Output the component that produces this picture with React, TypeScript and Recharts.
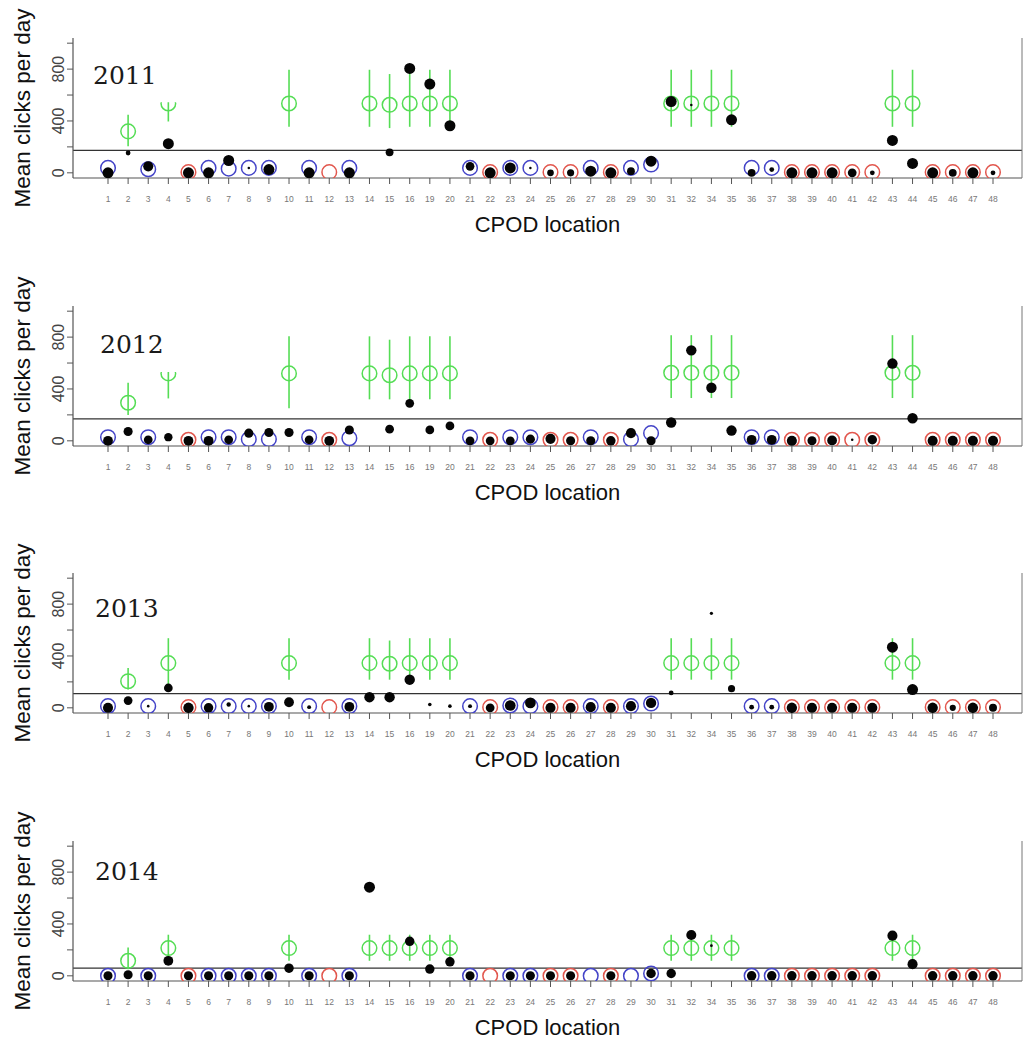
import React from "react";
import {
  ComposedChart,
  Scatter,
  ErrorBar,
  XAxis,
  YAxis,
  ZAxis,
  ReferenceLine,
  ReferenceArea,
} from "recharts";

// CPOD locations (17, 18 and 33 are missing in the source figure)
const LOCATIONS = [
  "1", "2", "3", "4", "5", "6", "7", "8", "9", "10", "11", "12", "13", "14", "15", "16",
  "19", "20", "21", "22", "23", "24", "25", "26", "27", "28", "29", "30", "31", "32",
  "34", "35", "36", "37", "38", "39", "40", "41", "42", "43", "44", "45", "46", "47", "48",
];

// b = blue ring, r = red ring, g = green ring with interval
const HABITAT = [
  "b", "g", "b", "g", "r", "b", "b", "b", "b", "g", "b", "r", "b", "g", "g", "g",
  "g", "g", "b", "r", "b", "b", "r", "r", "b", "r", "b", "b", "g", "g",
  "g", "g", "b", "b", "r", "r", "r", "r", "r", "g", "g", "r", "r", "r", "r",
];

const YEARS = ["2011", "2012", "2013", "2014"];
const THRESHOLDS = [173, 169, 110, 60];
const Y_TICKS = [0, 200, 400, 600, 800, 1000];

// predicted (ring) values
const PRED_2011 = [38, 320, 28, 535, 5, 38, 32, 38, 38, 535, 38, 5, 38, 535, 525, 535, 535, 535, 38, 5, 38, 38, 5, 5, 38, 5, 38, 64, 535, 535, 535, 535, 38, 38, 5, 5, 5, 5, 5, 535, 535, 5, 5, 5, 5];
const PRED_2012 = [28, 294, 28, 520, 8, 28, 28, 13, 13, 520, 28, 8, 20, 520, 506, 520, 520, 520, 28, 8, 28, 28, 8, 8, 28, 8, 13, 59, 525, 525, 525, 525, 28, 28, 8, 8, 8, 8, 8, 525, 525, 8, 8, 8, 8];
const PRED_2013 = [13, 205, 13, 345, 5, 13, 13, 13, 13, 345, 13, 5, 13, 345, 340, 345, 345, 345, 13, 5, 18, 13, 5, 5, 13, 5, 13, 33, 345, 345, 345, 345, 13, 13, 5, 5, 5, 5, 5, 345, 345, 5, 5, 5, 5];
const PRED_2014 = [0, 116, 0, 214, 0, 0, 0, 0, 0, 214, 0, 0, 0, 214, 214, 214, 214, 214, 0, 0, 0, 0, 0, 0, 0, 0, 0, 18, 214, 214, 214, 214, 0, 0, 0, 0, 0, 0, 0, 214, 214, 0, 0, 0, 0];

// observed mean clicks per day (black dots)
const OBS_2011 = [0, 153, 50, 225, 0, 0, 95, 38, 25, null, 0, null, 0, null, 158, 805, 685, 363, 50, 0, 38, 38, 0, 0, 13, 0, 13, 90, 550, 524, null, 409, 0, 25, 0, 0, 0, 0, 0, 250, 72, 0, 0, 0, 0];
const OBS_2012 = [0, 72, 8, 28, 0, 0, 8, 59, 64, 64, 8, 0, 84, null, 90, 289, 84, 115, 0, 0, 0, 13, 15, 0, 0, 0, 59, 0, 141, 698, 409, 79, 8, 8, 0, 0, 3, 8, 8, 596, 174, 0, 0, 0, 0];
const OBS_2013 = [0, 56, 13, 153, 0, 0, 26, 13, 8, 43, 5, null, 8, 82, 82, 217, 26, 13, 13, 0, 18, 38, 0, 0, 5, 0, 13, 38, 115, null, 729, 148, 5, 5, 0, 0, 0, 0, 0, 468, 141, 0, 0, 0, 0];
const OBS_2014 = [0, 8, 0, 116, 0, 0, 0, 0, 0, 59, 0, null, 0, 684, null, 266, 52, 108, 0, null, 0, 0, 0, 0, null, 0, null, 18, 18, 315, 232, null, 0, 0, 0, 0, 0, 0, 0, 310, 90, 0, 0, 0, 0];

// relative dot weight (mapped to symbol area by ZAxis)
const DOT_2011 = [95, 18, 80, 95, 95, 95, 95, 5, 95, 0, 95, 0, 95, 0, 48, 95, 95, 95, 60, 95, 95, 5, 35, 40, 95, 95, 48, 95, 95, 5, 0, 95, 48, 18, 95, 95, 95, 60, 18, 95, 95, 95, 48, 95, 18];
const DOT_2012 = [75, 65, 60, 55, 75, 75, 60, 65, 65, 65, 60, 75, 65, 0, 60, 60, 60, 60, 60, 60, 60, 65, 80, 65, 65, 70, 80, 65, 85, 85, 85, 85, 75, 75, 80, 65, 75, 5, 70, 85, 85, 80, 80, 80, 80];
const DOT_2013 = [80, 60, 5, 60, 85, 70, 15, 5, 75, 75, 12, 0, 75, 85, 85, 85, 10, 10, 12, 60, 90, 90, 80, 80, 80, 80, 80, 85, 18, 0, 8, 40, 18, 18, 85, 80, 80, 80, 80, 95, 95, 85, 30, 85, 50];
const DOT_2014 = [65, 65, 65, 75, 65, 65, 65, 65, 65, 70, 65, 0, 65, 95, 0, 70, 70, 70, 65, 0, 65, 65, 65, 65, 0, 65, 0, 70, 70, 80, 6, 0, 70, 70, 70, 70, 70, 70, 70, 80, 80, 70, 70, 70, 70];

// interval limits for the green locations
const LOW_2011: Record<string, number> = { "2": 205, "4": 396, "10": 355, "14": 355, "15": 345, "16": 355, "19": 355, "20": 355, "31": 355, "32": 355, "34": 355, "35": 355, "43": 355, "44": 355 };
const HIGH_2011: Record<string, number> = { "2": 448, "4": 795, "10": 795, "14": 795, "15": 762, "16": 795, "19": 795, "20": 795, "31": 795, "32": 795, "34": 795, "35": 795, "43": 795, "44": 795 };
const LOW_2012: Record<string, number> = { "2": 200, "4": 327, "10": 251, "14": 320, "15": 320, "16": 320, "19": 320, "20": 320, "31": 330, "32": 330, "34": 330, "35": 330, "43": 330, "44": 330 };
const HIGH_2012: Record<string, number> = { "2": 448, "4": 806, "10": 806, "14": 806, "15": 780, "16": 806, "19": 806, "20": 806, "31": 815, "32": 815, "34": 815, "35": 815, "43": 815, "44": 815 };
const LOW_2013: Record<string, number> = { "2": 141, "4": 160, "10": 217, "14": 217, "15": 217, "16": 217, "19": 217, "20": 217, "31": 217, "32": 217, "34": 217, "35": 217, "43": 217, "44": 217 };
const HIGH_2013: Record<string, number> = { "2": 307, "4": 537, "10": 537, "14": 537, "15": 519, "16": 537, "19": 537, "20": 537, "31": 537, "32": 537, "34": 537, "35": 537, "43": 537, "44": 537 };
const LOW_2014: Record<string, number> = { "2": 50, "4": 116, "10": 116, "14": 116, "15": 116, "16": 116, "19": 116, "20": 116, "31": 116, "32": 116, "34": 116, "35": 116, "43": 116, "44": 116 };
const HIGH_2014: Record<string, number> = { "2": 219, "4": 317, "10": 317, "14": 317, "15": 317, "16": 317, "19": 317, "20": 317, "31": 317, "32": 317, "34": 317, "35": 317, "43": 317, "44": 317 };

// the year label's white box hides the top of location 4 in the first two panels
const MASK_FROM = [545, 530, null, null];

const RING = { b: "#4444c8", r: "#e2574e", g: "#55dd55" } as Record<string, string>;
const FONT = "'Liberation Sans', Arial, sans-serif";
const W = 1023;
const H = 240;
const TOP = 38;
const AXIS_H = 62;
const PLOT_H = H - TOP - AXIS_H;
const X_PAD = { left: 35, right: 29 };
const PANEL_TOPS = [0, 268, 535, 803];
const YEAR_POS = [
  { x: 93, y: 63 },
  { x: 100, y: 64 },
  { x: 95, y: 61 },
  { x: 95, y: 56 },
];

function buildRows(pred: number[], obs: (number | null)[], dot: number[], low: Record<string, number>, high: Record<string, number>) {
  return LOCATIONS.map((loc, i) => ({
    loc,
    cls: HABITAT[i],
    pred: pred[i],
    obs: obs[i],
    w: dot[i],
    err: low[loc] != null ? [pred[i] - low[loc], high[loc] - pred[i]] : null,
  }));
}

const PANELS = [
  buildRows(PRED_2011, OBS_2011, DOT_2011, LOW_2011, HIGH_2011),
  buildRows(PRED_2012, OBS_2012, DOT_2012, LOW_2012, HIGH_2012),
  buildRows(PRED_2013, OBS_2013, DOT_2013, LOW_2013, HIGH_2013),
  buildRows(PRED_2014, OBS_2014, DOT_2014, LOW_2014, HIGH_2014),
];

const RingShape = (props: any) => {
  const { cx, cy, payload } = props;
  if (cx == null || cy == null || payload == null) return <g />;
  return <circle cx={cx} cy={cy} r={7.3} fill="none" stroke={RING[payload.cls]} strokeWidth={1.5} />;
};

const DotShape = (props: any) => {
  const { cx, cy, size, width, payload } = props;
  if (cx == null || cy == null || payload == null || payload.obs == null) return <g />;
  const r = size != null ? Math.sqrt(size / Math.PI) : (width || 8) / 2;
  return <circle cx={cx} cy={cy} r={r} fill="#050505" />;
};

const YTick = (props: any) => {
  const { x, y, payload } = props;
  if (payload.value % 400 !== 0) return <g />;
  return (
    <text
      x={x}
      y={y}
      transform={`rotate(-90 ${x} ${y})`}
      textAnchor="middle"
      fontSize={16}
      fontFamily={FONT}
      fill="#444"
    >
      {payload.value}
    </text>
  );
};

const YTitle = () => {
  const cx = 22;
  const cy = TOP + PLOT_H / 2;
  return (
    <text
      x={cx}
      y={cy}
      transform={`rotate(-90 ${cx} ${cy})`}
      textAnchor="middle"
      dominantBaseline="central"
      fontSize={22.5}
      fontFamily={FONT}
      fill="#111"
    >
      Mean clicks per day
    </text>
  );
};

function Panel({ idx }: { idx: number }) {
  const rows = PANELS[idx];
  const mask = MASK_FROM[idx];
  return (
    <div style={{ position: "absolute", left: 0, top: PANEL_TOPS[idx], width: W, height: H }}>
      <ComposedChart width={W} height={H} data={rows} margin={{ top: TOP, right: 0, bottom: 0, left: 0 }}>
        <XAxis
          dataKey="loc"
          type="category"
          interval={0}
          height={AXIS_H}
          padding={X_PAD}
          axisLine={{ stroke: "#555", strokeWidth: 1.2 }}
          tickLine={{ stroke: "#555" }}
          tickSize={6}
          tickMargin={12}
          tick={{ fontSize: 8.5, fill: "#777", fontFamily: FONT }}
          label={{ value: "CPOD location", position: "insideBottom", offset: 8, fontSize: 22, fill: "#111", fontFamily: FONT }}
        />
        <XAxis
          xAxisId="top"
          dataKey="loc"
          orientation="top"
          height={0}
          padding={X_PAD}
          tick={false}
          tickLine={false}
          axisLine={{ stroke: "#555", strokeWidth: 1.2 }}
        />
        <YAxis
          type="number"
          domain={[-40, 1040]}
          allowDataOverflow
          ticks={Y_TICKS}
          interval={0}
          width={73}
          tickSize={6}
          tickMargin={3}
          axisLine={{ stroke: "#555", strokeWidth: 1.2 }}
          tickLine={{ stroke: "#555" }}
          tick={YTick}
          label={<YTitle />}
        />
        <YAxis
          yAxisId="right"
          orientation="right"
          width={1}
          tick={false}
          tickLine={false}
          axisLine={{ stroke: "#777", strokeWidth: 1 }}
        />
        <ZAxis dataKey="w" type="number" domain={[0, 100]} range={[0, 100]} />
        <ReferenceLine y={THRESHOLDS[idx]} stroke="#333" strokeWidth={1.3} />
        <Scatter dataKey="pred" shape={RingShape} isAnimationActive={false}>
          <ErrorBar dataKey="err" direction="y" width={0} stroke={RING.g} strokeWidth={1.6} />
        </Scatter>
        {mask != null && (
          <ReferenceArea x2="5" y1={mask} y2={1030} fill="#ffffff" fillOpacity={1} stroke="none" zIndex={700} />
        )}
        <Scatter dataKey="obs" shape={DotShape} isAnimationActive={false} />
      </ComposedChart>
      <div
        style={{
          position: "absolute",
          left: YEAR_POS[idx].x,
          top: YEAR_POS[idx].y,
          fontFamily: "'DejaVu Serif', serif",
          fontSize: 25,
          lineHeight: "25px",
          color: "#1a1a1a",
        }}
      >
        {YEARS[idx]}
      </div>
    </div>
  );
}

export default function App() {
  return (
    <div style={{ position: "absolute", left: 0, top: 0, width: W, height: 1042, overflow: "hidden", background: "#fff" }}>
      {YEARS.map((y, i) => (
        <Panel key={y} idx={i} />
      ))}
    </div>
  );
}
